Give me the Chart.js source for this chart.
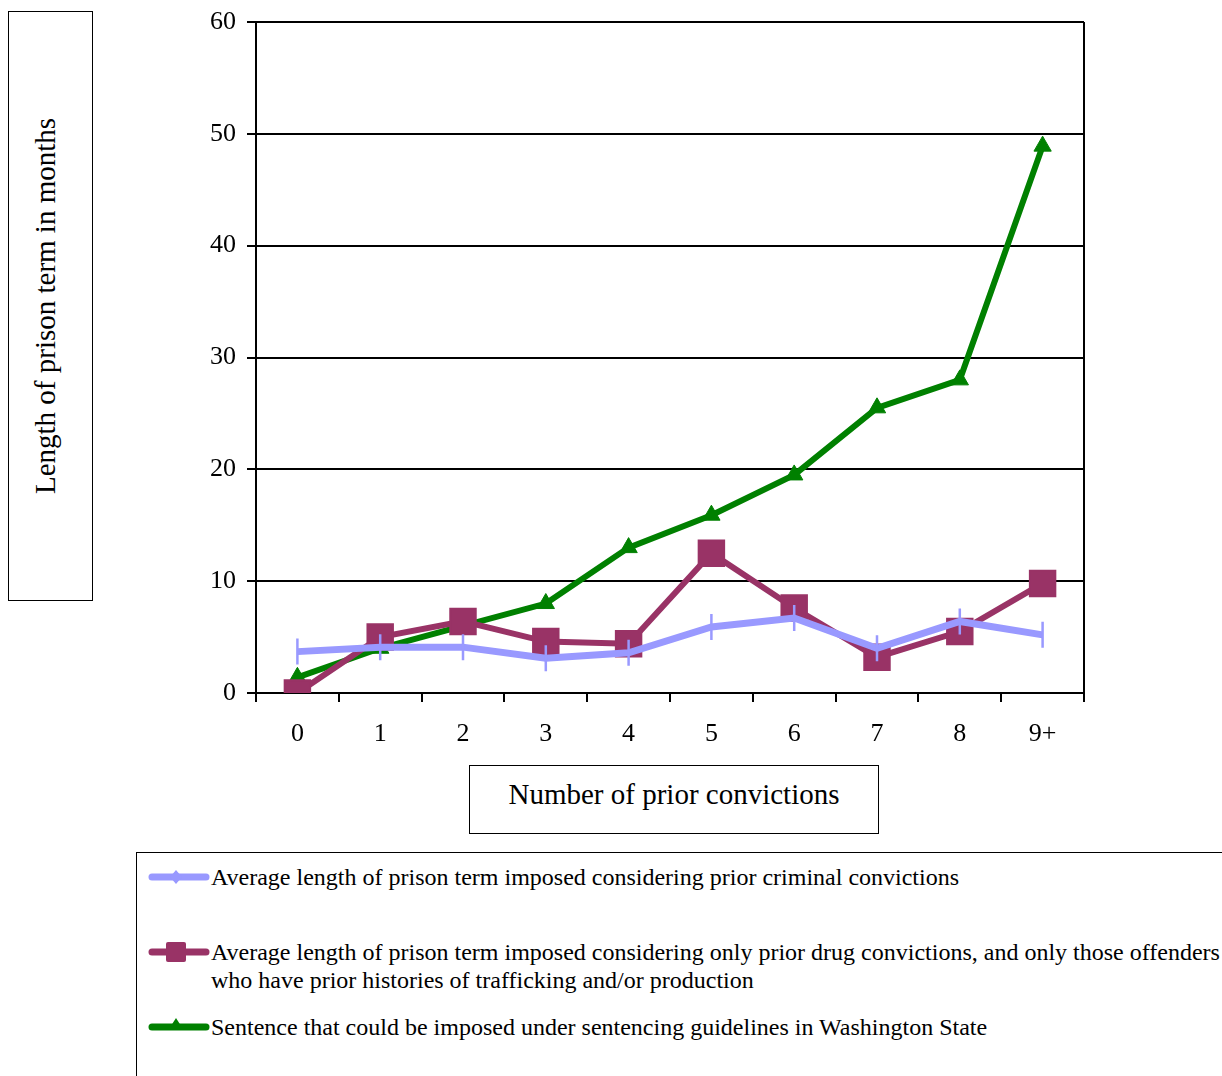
<!DOCTYPE html>
<html>
<head>
<meta charset="utf-8">
<script src="https://cdn.jsdelivr.net/npm/chart.js@4.4.1/dist/chart.umd.min.js"></script>
<style>
  html, body { margin: 0; padding: 0; background: #fff; }
  #wrap { position: relative; width: 1222px; height: 1076px; overflow: hidden; font-family: "Liberation Serif", "Times New Roman", serif; color: #000; }
  #chart { position: absolute; left: 0; top: 0; }
  .box { position: absolute; border: 1.5px solid #000; background: #fff; box-sizing: border-box; }
  #ytitle { left: 8px; top: 11px; width: 85px; height: 590px; }
  #ytitle span { position: absolute; left: 50%; top: 50%; transform: translate(calc(-50% - 6px), -50%) rotate(-90deg); white-space: nowrap; font-size: 29px; }
  #xtitle { left: 469px; top: 765px; width: 410px; height: 69px; display: flex; align-items: center; justify-content: center; font-size: 29px; padding-bottom: 10px; }
  #legend { left: 136px; top: 852px; width: 1200px; height: 300px; }
  .item { position: absolute; left: 10px; font-size: 24px; line-height: 28px; }
  .item svg { position: absolute; left: 0; top: 0; }
  .item div { position: absolute; left: 64px; top: 0; white-space: nowrap; }
</style>
</head>
<body>
<div id="wrap">
  <canvas id="chart" width="1222" height="1076"></canvas>
  <div class="box" id="ytitle"><span>Length of prison term in months</span></div>
  <div class="box" id="xtitle">Number of prior convictions</div>
  <div class="box" id="legend"></div>
</div>
<script>
// ─── Data ───

const categories = ['0', '1', '2', '3', '4', '5', '6', '7', '8', '9+'];
const yTicks = [0, 10, 20, 30, 40, 50, 60];

const allPriorAvg = [3.7, 4.1, 4.1, 3.1, 3.6, 5.9, 6.7, 4.0, 6.4, 5.2];
const drugPriorAvg = [0.0, 5.0, 6.4, 4.6, 4.4, 12.5, 7.6, 3.2, 5.5, 9.8];
const guidelineSentence = [1.4, 4.0, 6.0, 8.0, 13.0, 15.9, 19.5, 25.5, 28.0, 48.9];

const seriesLabels = [
  'Average length of prison term imposed considering prior criminal convictions',
  'Average length of prison term imposed considering only prior drug convictions, and only those offenders\nwho have prior histories of trafficking and/or production',
  'Sentence that could be imposed under sentencing guidelines in Washington State',
];

const COLORS = {
  blue: '#9999FF',
  plum: '#993366',
  green: '#008000',
};

// ─── Plot frame (right edge line) ───

const frame = {
  id: 'frame',
  afterDraw(chart) {
    const { ctx, chartArea: a } = chart;
    ctx.save();
    ctx.strokeStyle = '#000';
    ctx.lineWidth = 2;
    ctx.beginPath();
    ctx.moveTo(a.right, a.top);
    ctx.lineTo(a.right, a.bottom);
    ctx.stroke();
    ctx.restore();
  },
};

const tickFont = { family: '"Liberation Serif", "Times New Roman", serif', size: 26 };

new Chart(document.getElementById('chart'), {
  type: 'line',
  data: {
    labels: categories,
    datasets: [
      {
        label: seriesLabels[0],
        data: allPriorAvg,
        borderColor: COLORS.blue,
        backgroundColor: COLORS.blue,
        borderWidth: 7,
        pointStyle: 'line',
        rotation: 90,
        pointRadius: 13,
        pointBorderWidth: 2.5,
        tension: 0,
      },
      {
        label: seriesLabels[1],
        data: drugPriorAvg,
        borderColor: COLORS.plum,
        backgroundColor: COLORS.plum,
        borderWidth: 6,
        pointStyle: 'rect',
        pointRadius: 18,
        pointBorderWidth: 2,
        tension: 0,
      },
      {
        label: seriesLabels[2],
        data: guidelineSentence,
        borderColor: COLORS.green,
        backgroundColor: COLORS.green,
        borderWidth: 6,
        pointStyle: 'triangle',
        pointRadius: 10,
        pointBorderWidth: 1,
        tension: 0,
      },
    ],
  },
  options: {
    responsive: false,
    animation: false,
    layout: { padding: { top: 22, right: 138, left: 0, bottom: 0 } },
    plugins: {
      legend: { display: false },
      tooltip: { enabled: false },
    },
    scales: {
      x: {
        offset: true,
        afterFit: s => { s.height = 383; s.paddingLeft = 0; s.paddingRight = 0; },
        grid: { offset: true, drawOnChartArea: false, color: '#000', lineWidth: 2, tickLength: 9 },
        border: { color: '#000', width: 2 },
        ticks: { color: '#000', font: tickFont, padding: 17, maxRotation: 0 },
      },
      y: {
        min: 0,
        max: 60,
        afterFit: s => { s.width = 256; s.paddingTop = 0; s.paddingBottom = 0; },
        afterBuildTicks: s => { s.ticks = yTicks.map(v => ({ value: v })); },
        grid: { color: '#000', lineWidth: 2, tickLength: 9 },
        border: { color: '#000', width: 2 },
        ticks: { color: '#000', font: tickFont, padding: 11 },
      },
    },
  },
  plugins: [frame],
});

// ─── HTML legend ───

const legendEl = document.getElementById('legend');
const itemTops = [10, 85, 160];
const markers = [
  `<path d="M29,25 L35,32 L29,39 L23,32 Z" fill="${COLORS.blue}"/>`,
  `<rect x="19" y="22" width="20" height="20" rx="2" fill="${COLORS.plum}"/>`,
  `<path d="M29,23 L36,34 L22,34 Z" fill="${COLORS.green}"/>`,
];
const lineColors = [COLORS.blue, COLORS.plum, COLORS.green];

seriesLabels.forEach((label, i) => {
  const item = document.createElement('div');
  item.className = 'item';
  item.style.top = itemTops[i] + 'px';
  item.innerHTML =
    `<svg width="70" height="60" viewBox="0 0 70 60" style="left:0;top:-18px">` +
    `<line x1="5" y1="32" x2="59" y2="32" stroke="${lineColors[i]}" stroke-width="7" stroke-linecap="round"/>` +
    markers[i] + `</svg>` +
    `<div>${label.replace('\n', '<br>')}</div>`;
  legendEl.appendChild(item);
});
</script>
</body>
</html>
